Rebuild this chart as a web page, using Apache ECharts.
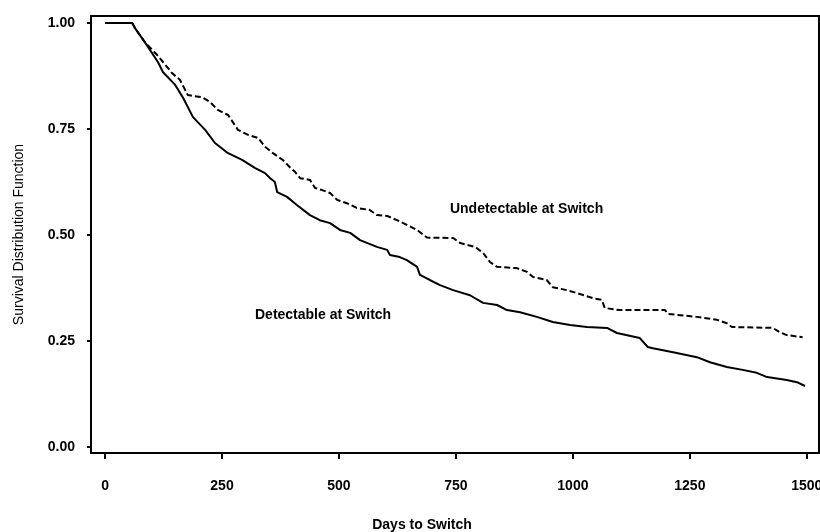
<!DOCTYPE html>
<html>
<head>
<meta charset="utf-8">
<script src="https://cdn.jsdelivr.net/npm/echarts@6/dist/echarts.min.js"></script>
<style>
  html, body { margin: 0; padding: 0; background: #fff; }
  #chartBox { width: 820px; height: 532px; }
</style>
</head>
<body>
<div id="chartBox"></div>
<script>
// [days, survival]
const detectable = [
  [0, 1], [58, 1], [64, 0.988], [85, 0.955], [113, 0.908], [124, 0.884], [150, 0.854],
  [167, 0.823], [188, 0.778], [214, 0.748], [235, 0.717], [263, 0.693], [293, 0.677],
  [321, 0.658], [342, 0.646], [353, 0.634], [363, 0.625], [368, 0.601], [389, 0.59],
  [410, 0.571], [438, 0.547], [459, 0.535], [481, 0.528], [502, 0.512], [524, 0.505],
  [545, 0.488], [581, 0.472], [603, 0.465], [609, 0.453], [630, 0.448], [645, 0.441],
  [667, 0.425], [673, 0.406], [694, 0.394], [716, 0.382], [744, 0.37], [780, 0.358],
  [808, 0.34], [838, 0.335], [859, 0.323], [887, 0.318], [923, 0.307], [957, 0.295],
  [994, 0.288], [1030, 0.283], [1073, 0.281], [1094, 0.269], [1143, 0.257], [1160, 0.236],
  [1171, 0.233], [1222, 0.222], [1265, 0.212], [1293, 0.2], [1329, 0.189], [1363, 0.182],
  [1393, 0.175], [1415, 0.165], [1457, 0.158], [1479, 0.153], [1496, 0.144]
];
const undetectable = [
  [0, 1], [58, 1], [64, 0.988], [85, 0.955], [111, 0.925], [124, 0.908], [143, 0.882],
  [160, 0.866], [177, 0.83], [207, 0.825], [224, 0.814], [241, 0.795], [263, 0.783],
  [284, 0.748], [306, 0.736], [327, 0.729], [342, 0.708], [359, 0.693], [380, 0.677],
  [395, 0.66], [406, 0.649], [417, 0.634], [438, 0.63], [449, 0.611], [464, 0.606],
  [481, 0.599], [496, 0.583], [517, 0.575], [538, 0.564], [566, 0.559], [581, 0.547],
  [603, 0.545], [624, 0.535], [645, 0.524], [667, 0.512], [688, 0.494], [744, 0.493],
  [759, 0.481], [791, 0.472], [808, 0.458], [823, 0.436], [838, 0.425], [880, 0.422],
  [902, 0.413], [915, 0.401], [944, 0.394], [957, 0.377], [987, 0.37], [1009, 0.363],
  [1043, 0.351], [1062, 0.347], [1068, 0.328], [1100, 0.323], [1197, 0.323], [1203, 0.314],
  [1265, 0.307], [1308, 0.3], [1329, 0.292], [1340, 0.283], [1427, 0.281], [1442, 0.271],
  [1457, 0.264], [1491, 0.259]
];
const xTicks = [0, 250, 500, 750, 1000, 1250, 1500];
const yTicks = [0, 0.25, 0.5, 0.75, 1];

const font = "'Liberation Sans', Arial, sans-serif";
const myChart = echarts.init(document.getElementById('chartBox'));

let option = {
  backgroundColor: '#fff',
  animation: false,
  grid: {
    left: 91, right: 1, top: 16, bottom: 79,
    outerBoundsMode: 'none',
    show: true, borderColor: '#000', borderWidth: 2
  },
  xAxis: {
    type: 'value',
    min: -30, max: 1526,
    name: 'Days to Switch',
    nameLocation: 'middle',
    nameGap: 65,
    nameTextStyle: { color: '#000', fontFamily: font, fontWeight: 'bold', fontSize: 14, padding: [0, 66, 0, 0] },
    splitLine: { show: false },
    axisLine: { onZero: false, lineStyle: { color: '#000', width: 2 } },
    axisTick: { show: true, length: 6, customValues: xTicks, lineStyle: { color: '#000', width: 2 } },
    axisLabel: {
      customValues: xTicks, margin: 26, color: '#000', fontFamily: font, fontWeight: 'bold', fontSize: 14,
      formatter: v => String(v)
    }
  },
  yAxis: {
    type: 'value',
    min: -0.014, max: 1.0165,
    name: 'Survival Distribution Function',
    nameLocation: 'middle',
    nameGap: 65,
    nameTextStyle: { color: '#000', fontFamily: font, fontSize: 14 },
    splitLine: { show: false },
    axisLine: { show: true, onZero: false, lineStyle: { color: '#000', width: 2 } },
    axisTick: { show: true, length: 4, customValues: yTicks, lineStyle: { color: '#000', width: 2 } },
    axisLabel: {
      customValues: yTicks, margin: 16, color: '#000', fontFamily: font, fontWeight: 'bold', fontSize: 14,
      formatter: v => v.toFixed(2)
    }
  },
  series: [
    {
      name: 'Detectable at Switch',
      type: 'line',
      showSymbol: false,
      data: detectable,
      lineStyle: { color: '#000', width: 2 },
      markPoint: {
        symbolSize: 0,
        data: [{ coord: [466, 0.311], value: 'Detectable at Switch' }],
        label: { show: true, position: 'inside', formatter: '{c}', color: '#000', fontFamily: font, fontWeight: 'bold', fontSize: 14 }
      }
    },
    {
      name: 'Undetectable at Switch',
      type: 'line',
      showSymbol: false,
      data: undetectable,
      lineStyle: { color: '#000', width: 2, type: [6, 3] },
      markPoint: {
        symbolSize: 0,
        data: [{ coord: [901, 0.561], value: 'Undetectable at Switch' }],
        label: { show: true, position: 'inside', formatter: '{c}', color: '#000', fontFamily: font, fontWeight: 'bold', fontSize: 14 }
      }
    }
  ]
};

myChart.setOption(option);
</script>
</body>
</html>
